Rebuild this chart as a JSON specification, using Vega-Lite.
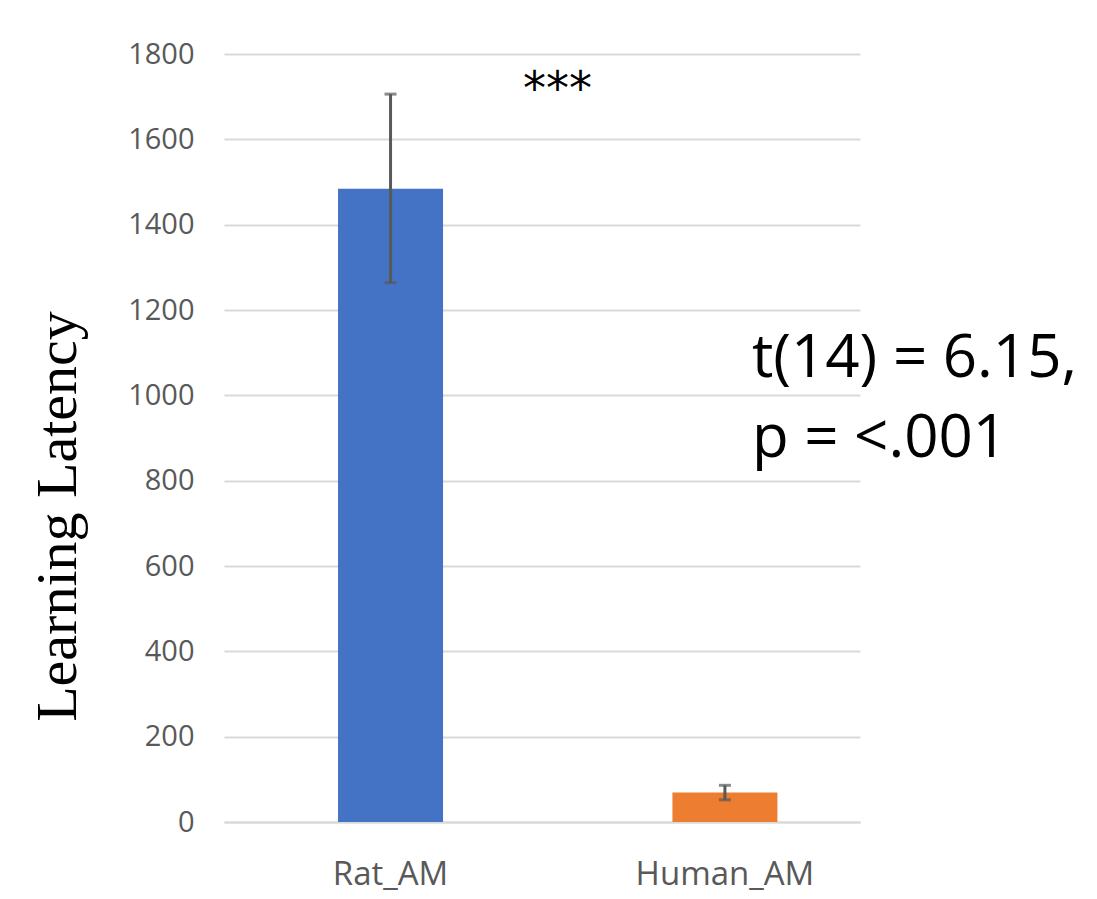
{
  "$schema": "https://vega.github.io/schema/vega-lite/v6.json",
  "autosize": "none",
  "width": 636,
  "height": 768,
  "padding": {"left": 224, "top": 54, "right": 237, "bottom": 77},
  "background": "white",
  "config": {"view": {"stroke": null}},
  "data": {"values": [
    {"group": "Rat_AM", "mean": 1484, "lo": 1264, "hi": 1706},
    {"group": "Human_AM", "mean": 69, "lo": 52, "hi": 86}
  ]},
  "encoding": {
    "x": {"field": "group", "type": "nominal", "sort": ["Rat_AM", "Human_AM"],
      "scale": {"paddingInner": 0.686, "paddingOuter": 0.294, "align": 0.58},
      "axis": {"title": null, "labelAngle": 0, "labelFont": "Open Sans", "labelFontSize": 33, "labelColor": "#595959",
        "ticks": false, "domainColor": "#d9d9d9", "domainWidth": 2, "labelPadding": 36}}
  },
  "layer": [
    {
      "mark": {"type": "bar"},
      "encoding": {
        "y": {"field": "mean", "type": "quantitative", "scale": {"domain": [0, 1800], "nice": false},
          "axis": {"values": [0,200,400,600,800,1000,1200,1400,1600,1800], "format": "d", "title": "Learning Latency",
            "titleFont": "Liberation Serif", "titleFontSize": 58, "titleFontWeight": "normal", "titleColor": "black",
            "titleAngle": -90, "titleX": -149, "titleY": 462, "titleAlign": "center", "titleBaseline": "alphabetic",
            "labelFont": "Open Sans", "labelFontSize": 29, "labelColor": "#595959", "labelPadding": 30,
            "ticks": false, "domain": false, "gridColor": "#d9d9d9", "gridWidth": 2}},
        "color": {"field": "group", "type": "nominal", "scale": {"domain": ["Rat_AM", "Human_AM"], "range": ["#4472C4", "#ED7D31"]}, "legend": null}
      }
    },
    {
      "mark": {"type": "rule", "color": "#595959", "strokeWidth": 3},
      "encoding": {"y": {"field": "lo", "type": "quantitative"}, "y2": {"field": "hi"}}
    },
    {
      "mark": {"type": "tick", "color": "#595959", "thickness": 3, "size": 12, "orient": "horizontal"},
      "encoding": {"y": {"field": "lo", "type": "quantitative"}}
    },
    {
      "mark": {"type": "tick", "color": "#595959", "thickness": 3, "size": 12, "orient": "horizontal"},
      "encoding": {"y": {"field": "hi", "type": "quantitative"}}
    },
    {
      "data": {"values": [{"label": "***"}]},
      "mark": {"type": "text", "font": "DejaVu Sans", "fontSize": 46, "color": "black", "align": "center", "baseline": "alphabetic", "dx": 167},
      "encoding": {"x": {"datum": "Rat_AM"}, "y": {"datum": 1683}, "text": {"field": "label"}}
    },
    {
      "data": {"values": [{"label": ["t(14) = 6.15,", "p = <.001"]}]},
      "mark": {"type": "text", "font": "Open Sans", "fontSize": 60, "color": "black", "align": "left", "baseline": "alphabetic", "dx": 27, "lineHeight": 80},
      "encoding": {"x": {"datum": "Human_AM"}, "y": {"datum": 1044}, "text": {"field": "label"}}
    }
  ]
}
